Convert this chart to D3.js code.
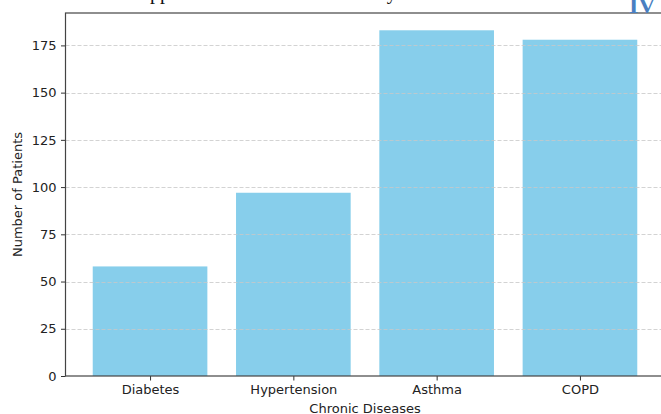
<!DOCTYPE html>
<html>
<head>
<meta charset="utf-8">
<script src="https://cdn.jsdelivr.net/npm/d3@7"></script>
<style>
  html, body { margin: 0; padding: 0; background: #fff; overflow: hidden; }
  svg { display: block; }
</style>
</head>
<body>
<svg id="chart" width="661" height="414"></svg>
<script>
const categories = ["Diabetes", "Hypertension", "Asthma", "COPD"];
const patients = [58, 97, 183, 178];
const yTicks = [0, 25, 50, 75, 100, 125, 150, 175];
const xLabel = "Chronic Diseases";
const yLabel = "Number of Patients";
const headerText = "Support for chronic disease study";
const cornerText = "IV";

(function () {
const svg = d3.select("#chart");
const mLeft = 65.5, mRight = 664.5, mTop = 13, mBottom = 376;

const n = categories.length;
const xmin = -0.4 - 0.05 * (n - 1 + 0.8), xmax = (n - 1) + 0.4 + 0.05 * (n - 1 + 0.8);
const x = d3.scaleLinear().domain([xmin, xmax]).range([mLeft, mRight]);
const ymax = d3.max(patients) * 1.05;
const y = d3.scaleLinear().domain([0, ymax]).range([mBottom, mTop]);

const font = "DejaVu Sans, sans-serif";
const fs = 13;

// bars
svg.append("g").selectAll("rect").data(patients).join("rect")
  .attr("x", (d, i) => x(i - 0.4))
  .attr("width", (d, i) => x(i + 0.4) - x(i - 0.4))
  .attr("y", d => y(d))
  .attr("height", d => y(0) - y(d))
  .attr("fill", "#87CEEB");

// grid
svg.append("g").selectAll("line").data(yTicks.filter(t => t > 0)).join("line")
  .attr("x1", mLeft).attr("x2", mRight)
  .attr("y1", d => Math.round(y(d)) + 0.5).attr("y2", d => Math.round(y(d)) + 0.5)
  .attr("stroke", "#c8c8c8").attr("stroke-opacity", 0.8)
  .attr("stroke-width", 1).attr("stroke-dasharray", "4,2");

// axes
const yAxis = d3.axisLeft(y).tickValues(yTicks).tickSize(4.5).tickPadding(4.5);
const gy = svg.append("g").attr("transform", `translate(${mLeft},0)`).call(yAxis);
gy.select(".domain").remove();
gy.selectAll("text").attr("font-family", font).attr("font-size", fs).attr("fill", "#222");
gy.selectAll("line").attr("stroke", "#333").attr("stroke-width", 1);

const xAxis = d3.axisBottom(x).tickValues(d3.range(n)).tickFormat(i => categories[i]).tickSize(4.5).tickPadding(4.5);
const gx = svg.append("g").attr("transform", `translate(0,${mBottom})`).call(xAxis);
gx.select(".domain").remove();
gx.selectAll("text").attr("font-family", font).attr("font-size", fs).attr("fill", "#222");
gx.selectAll("line").attr("stroke", "#333").attr("stroke-width", 1);

// spines
svg.append("rect")
  .attr("x", mLeft).attr("y", mTop)
  .attr("width", mRight - mLeft).attr("height", mBottom - mTop)
  .attr("fill", "none").attr("stroke", "#444").attr("stroke-width", 1.2);

// axis labels
svg.append("text").attr("x", (mLeft + mRight) / 2).attr("y", 413)
  .attr("text-anchor", "middle").attr("font-family", font).attr("font-size", fs).attr("fill", "#222")
  .text(xLabel);
svg.append("text")
  .attr("transform", `translate(22,${(mTop + mBottom) / 2}) rotate(-90)`)
  .attr("text-anchor", "middle").attr("font-family", font).attr("font-size", fs).attr("fill", "#222")
  .text(yLabel);

// clipped header text from surrounding page
svg.append("text").attr("x", 129).attr("y", -1.5)
  .attr("font-family", "Liberation Serif, serif").attr("font-size", 20).attr("fill", "#111")
  .text(headerText);
svg.append("text").attr("x", 629).attr("y", 13)
  .attr("font-family", "Liberation Serif, serif").attr("font-size", 24).attr("font-weight", 700)
  .attr("fill", "#4a7fc1")
  .text(cornerText);
})();
</script>
</body>
</html>
